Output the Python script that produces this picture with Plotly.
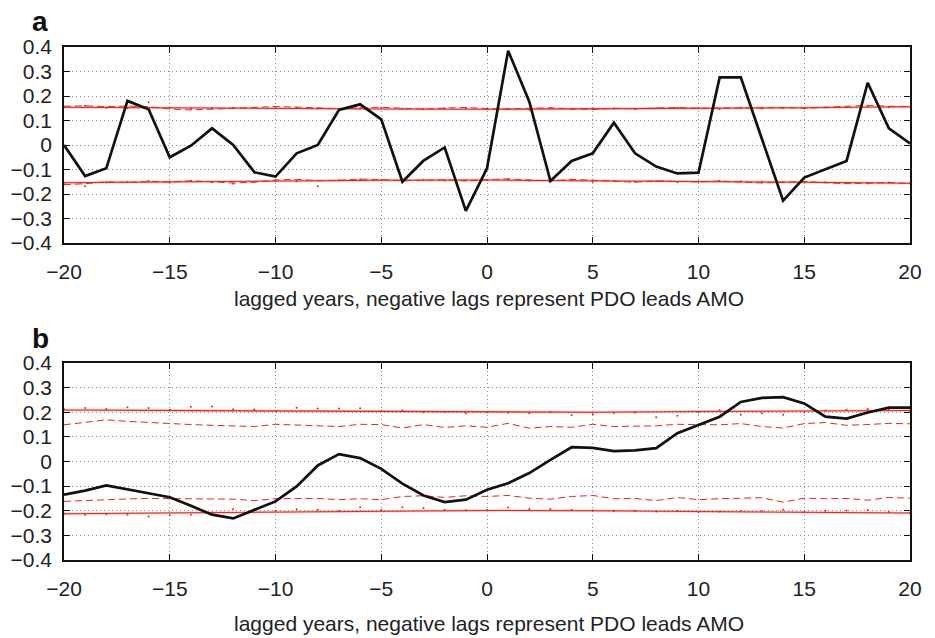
import plotly.graph_objects as go

lags = list(range(-20, 21))
xtick_vals = [-20, -15, -10, -5, 0, 5, 10, 15, 20]
xtick_text = ["\u221220", "\u221215", "\u221210", "\u22125", "0", "5", "10", "15", "20"]
ytick_vals = [0.4, 0.3, 0.2, 0.1, 0, -0.1, -0.2, -0.3, -0.4]
ytick_text = ["0.4", "0.3", "0.2", "0.1", "0", "\u22120.1", "\u22120.2", "\u22120.3", "\u22120.4"]
xlabel = "lagged years, negative lags represent PDO leads AMO"

# Panel a: lagged correlation (annual)
corr_a = [0.000, -0.127, -0.095, 0.180, 0.146, -0.050, -0.003, 0.068, 0.000, -0.111,
          -0.129, -0.034, 0.000, 0.143, 0.166, 0.105, -0.150, -0.064, -0.010, -0.269,
          -0.095, 0.385, 0.177, -0.147, -0.065, -0.034, 0.091, -0.034, -0.088, -0.116,
          -0.113, 0.276, 0.276, 0.023, -0.227, -0.133, -0.099, -0.065, 0.254, 0.068, 0.007]
sig_lags = [-20, -15, -10, -5, 0, 5, 10, 15, 20]
sig_up_a = [0.154, 0.151, 0.149, 0.147, 0.146, 0.147, 0.149, 0.152, 0.156]
sig_lo_a = [-0.154, -0.150, -0.146, -0.144, -0.143, -0.145, -0.149, -0.152, -0.156]
dash_up_a = [0.158, 0.160, 0.157, 0.159, 0.156, 0.147, 0.143, 0.146, 0.150, 0.152, 0.157,
             0.155, 0.151, 0.148, 0.152, 0.154, 0.150, 0.147, 0.151, 0.153, 0.149, 0.147,
             0.150, 0.152, 0.147, 0.145, 0.150, 0.148, 0.151, 0.153, 0.150, 0.151, 0.149,
             0.152, 0.153, 0.150, 0.154, 0.157, 0.162, 0.158, 0.157]
dash_lo_a = [-0.162, -0.158, -0.150, -0.153, -0.148, -0.151, -0.146, -0.150, -0.155, -0.152,
             -0.143, -0.140, -0.146, -0.144, -0.139, -0.141, -0.146, -0.144, -0.142, -0.147,
             -0.144, -0.138, -0.143, -0.147, -0.140, -0.144, -0.150, -0.152, -0.146, -0.149,
             -0.151, -0.147, -0.150, -0.155, -0.152, -0.149, -0.154, -0.158, -0.156, -0.153, -0.158]
dots_up_a = [0.155, 0.160, 0.152, 0.150, 0.175, 0.152, 0.148, 0.150, 0.152, 0.151, 0.155,
             0.152, 0.149, 0.147, 0.150, 0.152, 0.148, 0.146, 0.149, 0.150, 0.147, 0.148,
             0.144, 0.150, 0.148, 0.147, 0.149, 0.146, 0.150, 0.152, 0.150, 0.146, 0.152,
             0.149, 0.151, 0.150, 0.153, 0.155, 0.158, 0.154, 0.155]
dots_lo_a = [-0.160, -0.168, -0.152, -0.150, -0.147, -0.150, -0.146, -0.152, -0.158, -0.150,
             -0.146, -0.148, -0.168, -0.144, -0.141, -0.143, -0.145, -0.142, -0.146, -0.144,
             -0.143, -0.140, -0.145, -0.148, -0.142, -0.150, -0.147, -0.150, -0.148, -0.152,
             -0.150, -0.146, -0.148, -0.150, -0.152, -0.150, -0.152, -0.155, -0.157, -0.153, -0.156]

# Panel b: lagged correlation (smoothed)
corr_b = [-0.135, -0.118, -0.097, -0.112, -0.128, -0.145, -0.180, -0.216, -0.231, -0.196,
          -0.162, -0.101, -0.016, 0.030, 0.014, -0.030, -0.090, -0.138, -0.165, -0.155,
          -0.115, -0.088, -0.047, 0.007, 0.058, 0.055, 0.042, 0.045, 0.054, 0.115,
          0.149, 0.182, 0.242, 0.258, 0.261, 0.236, 0.182, 0.174, 0.199, 0.219, 0.219]
sig_up_b = [0.209, 0.207, 0.204, 0.202, 0.199, 0.200, 0.203, 0.205, 0.207]
sig_lo_b = [-0.212, -0.208, -0.205, -0.202, -0.199, -0.200, -0.203, -0.206, -0.209]
dash_up_b = [0.149, 0.159, 0.169, 0.163, 0.158, 0.153, 0.150, 0.147, 0.145, 0.142, 0.151,
             0.148, 0.145, 0.142, 0.151, 0.150, 0.136, 0.150, 0.138, 0.145, 0.139, 0.155,
             0.135, 0.142, 0.139, 0.151, 0.142, 0.142, 0.145, 0.151, 0.149, 0.149, 0.154,
             0.142, 0.136, 0.154, 0.158, 0.147, 0.150, 0.155, 0.153]
dash_lo_b = [-0.162, -0.158, -0.155, -0.152, -0.150, -0.151, -0.153, -0.155, -0.153, -0.159,
             -0.151, -0.150, -0.150, -0.155, -0.151, -0.155, -0.142, -0.139, -0.146, -0.139,
             -0.142, -0.138, -0.149, -0.153, -0.142, -0.138, -0.151, -0.150, -0.159, -0.146,
             -0.155, -0.151, -0.150, -0.147, -0.165, -0.149, -0.151, -0.150, -0.157, -0.146, -0.149]
dots_up_b = [0.212, 0.217, 0.213, 0.220, 0.217, 0.210, 0.222, 0.223, 0.212, 0.211, 0.205,
             0.218, 0.215, 0.215, 0.216, 0.205, 0.207, 0.200, 0.201, 0.196, 0.200, 0.198,
             0.196, 0.200, 0.188, 0.192, 0.197, 0.199, 0.180, 0.186, 0.200, 0.208, 0.190,
             0.196, 0.190, 0.200, 0.207, 0.210, 0.213, 0.210, 0.205]
dots_lo_b = [-0.212, -0.216, -0.214, -0.216, -0.223, -0.218, -0.216, -0.207, -0.193, -0.193,
             -0.200, -0.194, -0.196, -0.200, -0.186, -0.196, -0.186, -0.189, -0.196, -0.198,
             -0.197, -0.187, -0.193, -0.193, -0.196, -0.199, -0.201, -0.200, -0.203, -0.200,
             -0.205, -0.203, -0.200, -0.202, -0.196, -0.205, -0.200, -0.199, -0.197, -0.205, -0.210]

RED = "#e8261c"
PALE = "rgba(240,130,120,0.45)"
fig = go.Figure()

def add_panel(xa, ya, corr, sup, slo, dup, dlo, pup, plo):
    kw = dict(xaxis=xa, yaxis=ya, showlegend=False, hoverinfo="skip")
    for s in (sup, slo):
        fig.add_trace(go.Scatter(x=sig_lags, y=s, mode="lines", line=dict(color=PALE, width=2.5), **kw))
    for d in (dup, dlo):
        fig.add_trace(go.Scatter(x=lags, y=d, mode="lines", line=dict(color=RED, width=1, dash="7px,4px"), **kw))
    for p in (pup, plo):
        fig.add_trace(go.Scatter(x=lags, y=p, mode="markers", marker=dict(color=RED, size=2), **kw))
    for s in (sup, slo):
        fig.add_trace(go.Scatter(x=sig_lags, y=s, mode="lines", line=dict(color=RED, width=1.1), **kw))
    fig.add_trace(go.Scatter(x=lags, y=corr, mode="lines", line=dict(color="#111111", width=2.7), **kw))

add_panel("x", "y", corr_a, sig_up_a, sig_lo_a, dash_up_a, dash_lo_a, dots_up_a, dots_lo_a)
add_panel("x2", "y2", corr_b, sig_up_b, sig_lo_b, dash_up_b, dash_lo_b, dots_up_b, dots_lo_b)

W, H = 935, 638

def px(v):
    return v / W

def py(v):
    return 1 - v / H

xdom = [px(64), px(910)]
ydom_a = [py(243), py(47)]
ydom_b = [py(560), py(363)]

FONT = "Liberation Sans, Arial"
GRID = dict(showgrid=True, gridcolor="#8a8a8a", griddash="1px,3px", gridwidth=1, zeroline=False,
            showline=True, linecolor="#111", linewidth=1.5, mirror="allticks",
            ticks="inside", ticklen=6, tickcolor="#111", tickwidth=1,
            tickfont=dict(family=FONT, size=21, color="#222"), automargin=False)
xax = dict(GRID, range=[-20, 20], tickvals=xtick_vals, ticktext=xtick_text,
           ticklabelstandoff=9, domain=xdom)
yax = dict(GRID, range=[-0.4, 0.4], tickvals=ytick_vals, ticktext=ytick_text,
           ticklabelstandoff=6)

fig.update_layout(
    width=W, height=H, margin=dict(l=0, r=0, t=0, b=0),
    paper_bgcolor="white", plot_bgcolor="white",
    xaxis=dict(xax, anchor="y"), yaxis=dict(yax, domain=ydom_a, anchor="x"),
    xaxis2=dict(xax, anchor="y2"), yaxis2=dict(yax, domain=ydom_b, anchor="x2"),
    annotations=[
        dict(text="<b>a</b>", x=px(30), y=py(21), xref="paper", yref="paper",
             xanchor="left", yanchor="middle", showarrow=False,
             font=dict(family=FONT, size=28, color="#111")),
        dict(text="<b>b</b>", x=px(30), y=py(338), xref="paper", yref="paper",
             xanchor="left", yanchor="middle", showarrow=False,
             font=dict(family=FONT, size=28, color="#111")),
        dict(text=xlabel, x=px(489), y=py(298), xref="paper", yref="paper",
             xanchor="center", yanchor="middle", showarrow=False,
             font=dict(family=FONT, size=21, color="#222")),
        dict(text=xlabel, x=px(489), y=py(623), xref="paper", yref="paper",
             xanchor="center", yanchor="middle", showarrow=False,
             font=dict(family=FONT, size=21, color="#222")),
    ],
)

# remove the browser's default 8px body margin so the figure fills the window exactly
fig.write_html("out.html", config={"displayModeBar": False},
               post_script="document.body.style.margin='0';")
